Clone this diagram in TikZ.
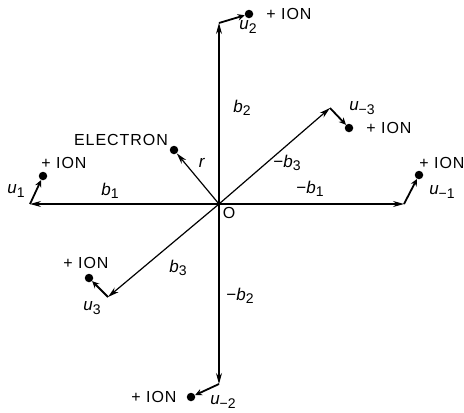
\documentclass[tikz,border=0pt]{standalone}
\usepackage{fontspec}
\setmainfont{Liberation Sans}
\usetikzlibrary{arrows.meta}
\newcommand\lab[2]{\textit{#1}\raisebox{-0.4ex}{\fontsize{14}{14}\selectfont #2}}
\begin{document}
\begin{tikzpicture}[x=1pt,y=-1pt,
  axis/.style={line width=1.2pt,-{Stealth[length=11pt,width=6pt]}},
  uarrow/.style={line width=1.8pt,-{Stealth[length=7pt,width=6.5pt]}},
  iondot/.style={circle,fill,inner sep=0pt,minimum size=8.5pt},
  txt/.style={font=\fontsize{16}{18}\selectfont\addfontfeature{LetterSpace=6},inner sep=0pt},
  sym/.style={font=\fontsize{17}{18}\selectfont,inner sep=0pt}]
\useasboundingbox (0,0) rectangle (464,413);
% lattice points
\coordinate (O) at (219,204);
\coordinate (L1) at (30,204);
\coordinate (R1) at (404,204);
\coordinate (T2) at (219,23);
\coordinate (B2) at (219,384);
\coordinate (D3) at (108,297);
\coordinate (U3) at (330,108);
% ions and electron
\node[iondot] (ion1) at (43,176) {};
\node[iondot] (ionm1) at (419,175) {};
\node[iondot] (ion2) at (249,14) {};
\node[iondot] (ionm2) at (191,397) {};
\node[iondot] (ion3) at (89,278) {};
\node[iondot] (ionm3) at (349,128) {};
\node[iondot] (el) at (174,150) {};
% axes
\draw[axis] (O) -- (L1);
\draw[axis] (O) -- (R1);
\draw[axis] (O) -- (T2);
\draw[axis] (O) -- (B2);
\draw[axis] (O) -- (D3);
\draw[axis] (O) -- (U3);
\draw[axis] (O) -- (el);
% displacements
\draw[uarrow] (L1) -- (ion1);
\draw[uarrow] (R1) -- (ionm1);
\draw[uarrow] (T2) -- (ion2);
\draw[uarrow] (B2) -- (ionm2);
\draw[uarrow] (D3) -- (ion3);
\draw[uarrow] (U3) -- (ionm3);
% ion labels
\node[txt] (t1) at (64,163) {+ ION};
\node[txt] (tm1) at (442,163) {+ ION};
\node[txt] (t2) at (289,14) {+ ION};
\node[txt] (tm2) at (154,397) {+ ION};
\node[txt] (t3) at (86,263) {+ ION};
\node[txt] (tm3) at (389,128) {+ ION};
\node[txt] (te) at (121,140) {ELECTRON};
% symbols
\node[sym] (u1) at (16,191) {\lab{u}{1}};
\node[sym] (um1) at (442,192) {\lab{u}{−1}};
\node[sym] (u2) at (248,27) {\lab{u}{2}};
\node[sym] (um2) at (223,402) {\lab{u}{−2}};
\node[sym] (u3) at (92,308) {\lab{u}{3}};
\node[sym] (um3) at (362,108) {\lab{u}{−3}};
\node[sym] (r) at (202,163) {\textit{r}};
\node[sym] (b1) at (110,191) {\lab{b}{1}};
\node[sym] (mb1) at (310,189) {−\lab{b}{1}};
\node[sym] (b2) at (242,108) {\lab{b}{2}};
\node[sym] (mb2) at (240,296) {−\lab{b}{2}};
\node[sym] (b3) at (178,268) {\lab{b}{3}};
\node[sym] (mb3) at (287,163) {−\lab{b}{3}};
\node[txt] (o) at (229,213) {O};
\end{tikzpicture}
\end{document}
